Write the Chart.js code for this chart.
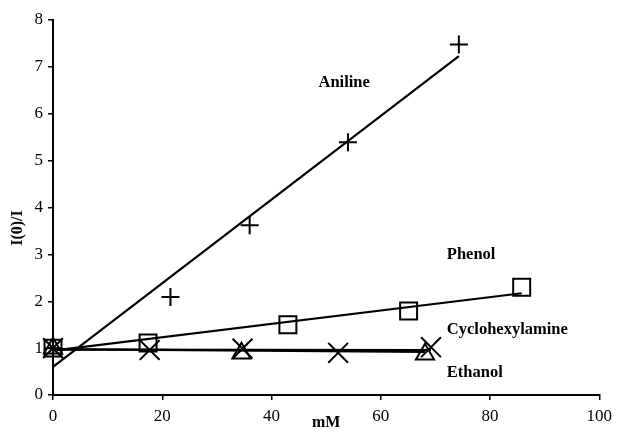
<!DOCTYPE html>
<html>
<head>
<meta charset="utf-8">
<script src="https://cdn.jsdelivr.net/npm/chart.js@4"></script>
<style>
html,body{margin:0;padding:0;background:#fff;}
#wrap{width:618px;height:430px;position:relative;}
</style>
</head>
<body>
<div id="wrap"><canvas id="c" width="618" height="430"></canvas></div>
<script>
// ---- data ----
const xTicks = [0, 20, 40, 60, 80, 100];
const yTicks = [0, 1, 2, 3, 4, 5, 6, 7, 8];

const anilineX = [0, 21.5, 36, 54, 74.3];
const anilineY = [1, 2.09, 3.62, 5.39, 7.48];
const phenolX = [0, 17.4, 43, 65.1, 85.8];
const phenolY = [1, 1.11, 1.5, 1.79, 2.3];
const cycloX = [0, 17.7, 34.7, 52.2, 69.2];
const cycloY = [1, 0.96, 0.99, 0.9, 1.02];
const ethanolX = [0, 34.5, 68.1];
const ethanolY = [1, 0.89, 0.87];

// trend lines (endpoints)
const anilineFitX = [0, 74.3];
const anilineFitY = [0.6, 7.23];
const phenolFitX = [0, 85.8];
const phenolFitY = [0.945, 2.17];
const cycloFitX = [0, 69.2];
const cycloFitY = [0.97, 0.96];
const ethanolFitX = [0, 68.1];
const ethanolFitY = [0.98, 0.92];

const seriesNames = ['Aniline', 'Phenol', 'Cyclohexylamine', 'Ethanol'];
// label anchor positions (in data units)
const labelX = [53.3, 72.1, 72.1, 72.1];
const labelY = [6.67, 3.0, 1.39, 0.47];
const labelAlign = ['center', 'left', 'left', 'left'];

const xTitle = 'mM';
const yTitle = 'I(0)/I';

const zip = (xs, ys) => xs.map((x, i) => ({x: x, y: ys[i]}));

function pts(xs, ys, style, r) {
  return {
    data: zip(xs, ys), showLine: false, pointStyle: style, pointRadius: r,
    pointBorderColor: '#000', pointBackgroundColor: 'rgba(0,0,0,0)',
    pointBorderWidth: 2, clip: false
  };
}
function fit(xs, ys) {
  return {
    data: zip(xs, ys), showLine: true, pointRadius: 0, borderColor: '#000',
    borderWidth: 2.2, fill: false, clip: false
  };
}

const FONT = '"Liberation Serif", "Times New Roman", serif';

const textPlugin = {
  id: 'texts',
  afterDraw(chart) {
    const ctx = chart.ctx;
    const xs = chart.scales.x, ys = chart.scales.y;
    ctx.save();
    ctx.fillStyle = '#000';
    ctx.font = 'bold 16.5px ' + FONT;
    ctx.textBaseline = 'middle';
    seriesNames.forEach((n, i) => {
      ctx.textAlign = labelAlign[i];
      ctx.fillText(n, xs.getPixelForValue(labelX[i]), ys.getPixelForValue(labelY[i]));
    });
    // axis titles
    ctx.font = 'bold 16px ' + FONT;
    ctx.textAlign = 'center';
    ctx.textBaseline = 'alphabetic';
    ctx.fillText(xTitle, (xs.left + xs.right) / 2, 427);
    ctx.save();
    ctx.translate(22, 228);
    ctx.rotate(-Math.PI / 2);
    ctx.textBaseline = 'alphabetic';
    ctx.fillText(yTitle, 0, 0);
    ctx.restore();
    ctx.restore();
  }
};

new Chart(document.getElementById('c'), {
  type: 'scatter',
  data: {
    datasets: [
      fit(anilineFitX, anilineFitY),
      fit(phenolFitX, phenolFitY),
      fit(cycloFitX, cycloFitY),
      fit(ethanolFitX, ethanolFitY),
      pts(anilineX, anilineY, 'cross', 9),
      pts(phenolX, phenolY, 'rect', 12),
      pts(cycloX, cycloY, 'crossRot', 14),
      pts(ethanolX, ethanolY, 'triangle', 10.5)
    ]
  },
  options: {
    responsive: false,
    animation: false,
    devicePixelRatio: 1,
    layout: {padding: {left: 0, right: 17, top: 20, bottom: 0}},
    plugins: {legend: {display: false}, tooltip: {enabled: false}},
    scales: {
      x: {
        type: 'linear', min: 0, max: 100,
        afterBuildTicks: s => { s.ticks = xTicks.map(v => ({value: v})); },
        afterFit: s => { s.height = 35; },
        grid: {drawOnChartArea: false, drawTicks: true, tickLength: 5, color: '#000', lineWidth: 1.5},
        border: {display: true, color: '#000', width: 2},
        ticks: {color: '#000', font: {family: FONT, size: 17}, padding: 6, maxRotation: 0}
      },
      y: {
        type: 'linear', min: 0, max: 8,
        afterBuildTicks: s => { s.ticks = yTicks.map(v => ({value: v})); },
        afterFit: s => { s.width = 53; },
        grid: {drawOnChartArea: false, drawTicks: true, tickLength: 5, color: '#000', lineWidth: 1.5},
        border: {display: true, color: '#000', width: 2},
        ticks: {color: '#000', font: {family: FONT, size: 17}, padding: 5}
      }
    }
  },
  plugins: [textPlugin]
});
</script>
</body>
</html>
